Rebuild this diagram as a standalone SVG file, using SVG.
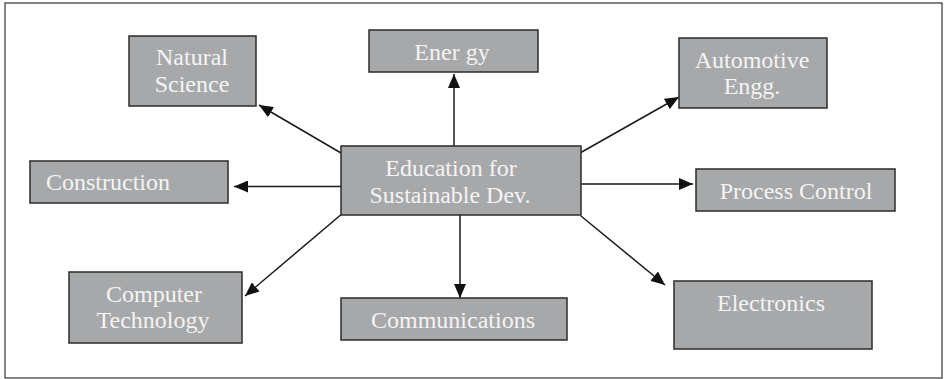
<svg xmlns="http://www.w3.org/2000/svg" width="944" height="379" viewBox="0 0 944 379">
<style>
.box{fill:#a7a8aa;stroke:#2b2b2b;stroke-width:1.5}
.t{font-family:"Liberation Serif","DejaVu Serif",serif;font-size:24px;fill:#f4f4f4;text-anchor:middle}
.c{fill:none;stroke:#1a1a1a;stroke-width:1.5;marker-end:url(#ah)}
</style>
<defs>
<marker id="ah" markerUnits="userSpaceOnUse" markerWidth="14" markerHeight="12" refX="14" refY="6" orient="auto" viewBox="0 0 14 12">
<path d="M0,0 L14,6 L0,12 z" fill="#111"/>
</marker>
</defs>
<rect x="0" y="0" width="944" height="379" fill="#ffffff"/>
<rect x="5" y="3" width="937" height="375" fill="none" stroke="#333" stroke-width="1.2"/>
<g id="connectors">
<line class="c" x1="341" y1="153" x2="259" y2="105"/>
<line class="c" x1="454" y1="156" x2="454" y2="74"/>
<line class="c" x1="580" y1="153" x2="679" y2="97"/>
<line class="c" x1="341" y1="186.5" x2="234" y2="186.5"/>
<line class="c" x1="581" y1="184" x2="693" y2="184"/>
<line class="c" x1="343" y1="213" x2="245" y2="296"/>
<line class="c" x1="460" y1="215" x2="460" y2="298"/>
<line class="c" x1="581" y1="216" x2="665" y2="285"/>
</g>
<g id="center">
<rect class="box" x="341" y="146" width="240" height="69"/>
<text class="t" x="451" y="176">Education for</text>
<text class="t" x="450" y="203">Sustainable Dev.</text>
</g>
<g id="natural-science">
<rect class="box" x="129" y="36" width="127" height="70"/>
<text class="t" x="192" y="65">Natural</text>
<text class="t" x="192" y="92">Science</text>
</g>
<g id="energy">
<rect class="box" x="369" y="30" width="169" height="42"/>
<text class="t" x="452" y="60">Ener gy</text>
</g>
<g id="automotive">
<rect class="box" x="679" y="38" width="148" height="70"/>
<text class="t" x="752" y="68">Automotive</text>
<text class="t" x="752" y="94">Engg.</text>
</g>
<g id="construction">
<rect class="box" x="30" y="161" width="198" height="42"/>
<text class="t" x="46" y="190" style="text-anchor:start">Construction</text>
</g>
<g id="process-control">
<rect class="box" x="696" y="169" width="199" height="42"/>
<text class="t" x="796" y="199">Process Control</text>
</g>
<g id="computer-technology">
<rect class="box" x="69" y="272" width="173" height="71"/>
<text class="t" x="154" y="302">Computer</text>
<text class="t" x="153" y="328">Technology</text>
</g>
<g id="communications">
<rect class="box" x="341" y="298" width="226" height="42"/>
<text class="t" x="453" y="328">Communications</text>
</g>
<g id="electronics">
<rect class="box" x="674" y="281" width="198" height="68"/>
<text class="t" x="771" y="311">Electronics</text>
</g>
</svg>
